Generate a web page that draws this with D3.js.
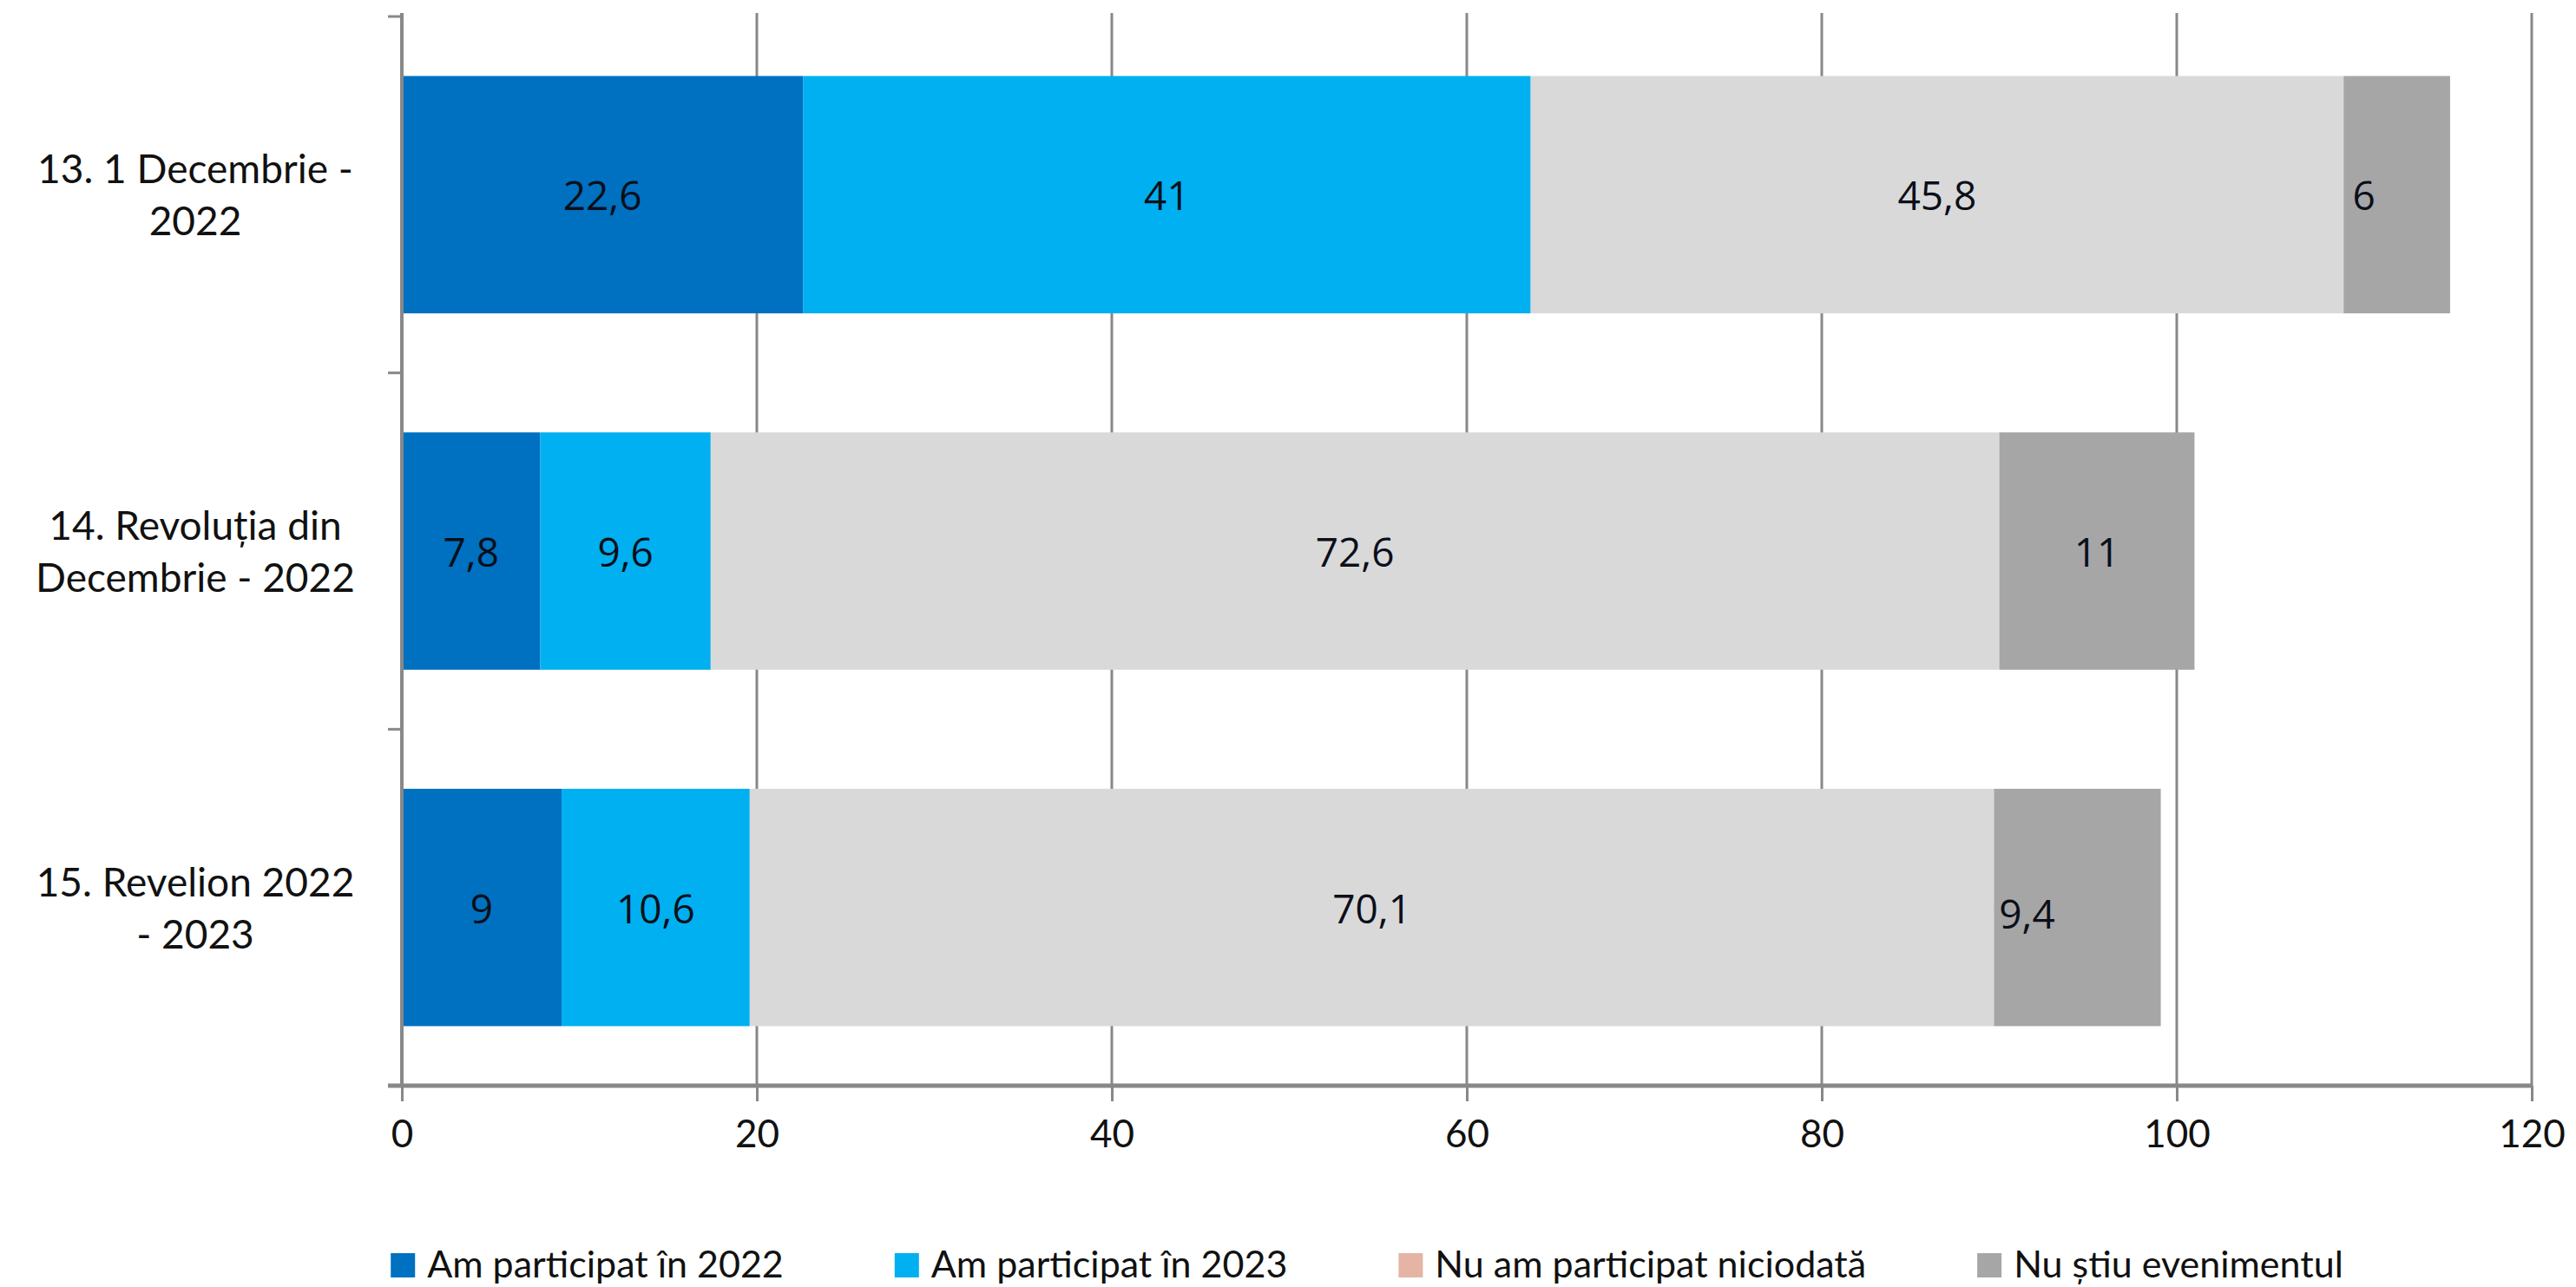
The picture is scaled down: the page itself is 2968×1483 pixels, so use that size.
<!DOCTYPE html>
<html>
<head>
<meta charset="utf-8">
<script src="https://cdn.jsdelivr.net/npm/d3@7"></script>
<style>
  html, body { margin: 0; padding: 0; background: #ffffff; }
  svg { display: block; }
</style>
</head>
<body>
<svg id="chart" width="2968" height="1483"></svg>
<script>
// Event categories, each label split over two lines
const categoryLines = [
  ["13. 1 Decembrie -", "2022"],
  ["14. Revoluția din", "Decembrie - 2022"],
  ["15. Revelion 2022", "- 2023"]
];

// Series names (legend order) and values per category
const seriesNames = [
  "Am participat în 2022",
  "Am participat în 2023",
  "Nu am participat niciodată",
  "Nu știu evenimentul"
];
const participated2022 = [22.6, 7.8, 9];
const participated2023 = [41, 9.6, 10.6];
const neverParticipated = [45.8, 72.6, 70.1];
const unknownEvent = [6, 11, 9.4];

// Value axis ticks
const xTicks = [0, 20, 40, 60, 80, 100, 120];

// Styling
const barColors = ["#0070C0", "#00B0F0", "#D9D9D9", "#A6A6A6"];
const legendColors = ["#0070C0", "#00B0F0", "#E5B4A4", "#A6A6A6"];
const gridColor = "#888888";
const textFont = "Lato, 'Open Sans', sans-serif";
const labelFont = "'Open Sans', Lato, sans-serif";

// Hand-placed label offsets (px) keyed by "row-series"
const labelNudge = { "0-3": [-38, 0], "2-3": [-58, 6] };

const svg = d3.select("#chart");

const plot = { left: 463, right: 2917, top: 19, bottom: 1251 };

const x = d3.scaleLinear().domain([0, 120]).range([plot.left, plot.right]);
const y = d3.scaleBand()
  .domain(d3.range(categoryLines.length))
  .range([plot.top, plot.bottom])
  .paddingInner(0.334)
  .paddingOuter(0.167);

// Build table rows for stacking
const table = categoryLines.map((c, i) => ({
  idx: i,
  s0: participated2022[i],
  s1: participated2023[i],
  s2: neverParticipated[i],
  s3: unknownEvent[i]
}));
const keys = ["s0", "s1", "s2", "s3"];
const stacked = d3.stack().keys(keys)(table);

// Vertical gridlines
svg.append("g")
  .selectAll("line")
  .data(xTicks.filter(t => t !== 0))
  .join("line")
  .attr("x1", d => x(d)).attr("x2", d => x(d))
  .attr("y1", plot.top - 4).attr("y2", plot.bottom)
  .attr("stroke", gridColor)
  .attr("stroke-width", 3);

// Bars
const layers = svg.append("g")
  .selectAll("g")
  .data(stacked)
  .join("g")
  .attr("fill", (d, i) => barColors[i]);

layers.selectAll("rect")
  .data(d => d)
  .join("rect")
  .attr("x", d => x(d[0]))
  .attr("width", d => x(d[1]) - x(d[0]))
  .attr("y", d => y(d.data.idx))
  .attr("height", y.bandwidth());

// Data labels
stacked.forEach((layer, si) => {
  svg.append("g")
    .selectAll("text")
    .data(layer)
    .join("text")
    .attr("x", d => {
      const n = labelNudge[d.data.idx + "-" + si];
      return (x(d[0]) + x(d[1])) / 2 + (n ? n[0] : 0);
    })
    .attr("y", d => {
      const n = labelNudge[d.data.idx + "-" + si];
      return y(d.data.idx) + y.bandwidth() / 2 + (n ? n[1] : 0);
    })
    .attr("text-anchor", "middle")
    .attr("dominant-baseline", "central")
    .attr("font-family", labelFont)
    .attr("font-size", 46)
    .attr("fill", "#0b0f1a")
    .text(d => String(d.data[layer.key]).replace(".", ","));
});

// Category axis: line with ticks at band boundaries
const yAxis = svg.append("g");
yAxis.append("line")
  .attr("x1", x(0)).attr("x2", x(0))
  .attr("y1", plot.top - 4).attr("y2", plot.bottom)
  .attr("stroke", gridColor).attr("stroke-width", 4);
yAxis.selectAll("line.tick")
  .data(d3.range(categoryLines.length + 1))
  .join("line")
  .attr("class", "tick")
  .attr("x1", x(0) - 16).attr("x2", x(0))
  .attr("y1", i => y.range()[0] + i * y.step())
  .attr("y2", i => y.range()[0] + i * y.step())
  .attr("stroke", gridColor).attr("stroke-width", 3);

// Category labels
const catLabels = svg.append("g")
  .selectAll("text")
  .data(categoryLines)
  .join("text")
  .attr("x", 225)
  .attr("y", (d, i) => y(i) + y.bandwidth() / 2)
  .attr("text-anchor", "middle")
  .attr("font-family", textFont)
  .attr("font-size", 46)
  .attr("fill", "#111");
catLabels.selectAll("tspan")
  .data(d => d)
  .join("tspan")
  .attr("x", 225)
  .attr("dy", (d, j) => j === 0 ? "-0.28em" : "1.3em")
  .text(d => d);

// Value axis
const xAxis = svg.append("g")
  .attr("transform", `translate(0,${plot.bottom})`)
  .call(d3.axisBottom(x).tickValues(xTicks).tickSize(18).tickPadding(22).tickSizeOuter(0));
xAxis.select(".domain")
  .attr("stroke", gridColor).attr("stroke-width", 5)
  .attr("d", `M${x(0) - 16},0H${x(120)}`);
xAxis.selectAll(".tick line").attr("stroke", gridColor).attr("stroke-width", 3);
xAxis.selectAll(".tick text")
  .attr("font-family", textFont)
  .attr("font-size", 44)
  .attr("fill", "#111");

// Legend
const legend = svg.append("g");
const legendBaseline = 1472;
const swatch = 28;
const items = legend.selectAll("g")
  .data(seriesNames)
  .join("g");
items.append("rect")
  .attr("width", swatch).attr("height", swatch)
  .attr("y", legendBaseline - swatch)
  .attr("fill", (d, i) => legendColors[i]);
items.append("text")
  .attr("x", swatch + 14)
  .attr("y", legendBaseline)
  .attr("font-family", textFont)
  .attr("font-size", 43)
  .attr("fill", "#111")
  .text(d => d);

const widths = [];
items.each(function() {
  widths.push(swatch + 14 + d3.select(this).select("text").node().getComputedTextLength());
});
const gap = 128;
const total = d3.sum(widths) + gap * (widths.length - 1);
let cursor = 1575 - total / 2;
items.attr("transform", (d, i) => {
  const t = `translate(${cursor},0)`;
  cursor += widths[i] + gap;
  return t;
});
</script>
</body>
</html>
